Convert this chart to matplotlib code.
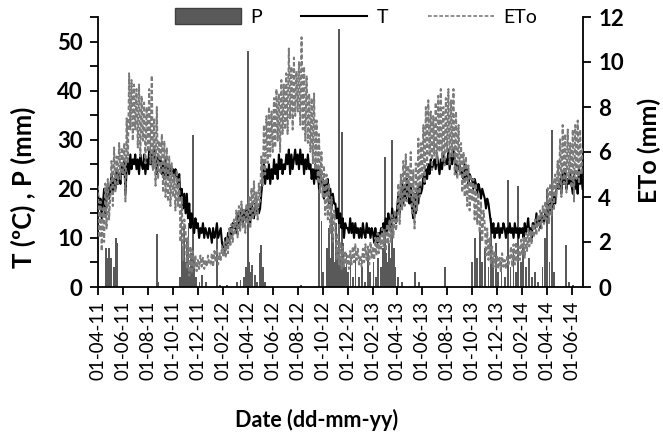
import numpy as np
import pandas as pd
import matplotlib
matplotlib.use('Agg')
import matplotlib.pyplot as plt
import matplotlib.dates as mdates
from matplotlib.patches import Patch
from matplotlib.lines import Line2D

plt.rcParams['font.family'] = ['Lato', 'DejaVu Sans']

# ---- data: 10 readings per month, Apr 2011 - Jun 2014 ----
months = pd.date_range('2011-04-01', '2014-06-01', freq='MS')

T_2011 = [19, 16, 18, 14, 17, 20, 15, 18, 21, 18,
          20, 23, 19, 22, 20, 24, 21, 23, 21, 25,
          23, 26, 19, 24, 26, 23, 27, 24, 26, 25,
          27, 24, 26, 23, 27, 25, 24, 27, 23, 26,
          24, 28, 25, 27, 24, 28, 26, 23, 27, 25,
          26, 23, 25, 22, 26, 24, 22, 25, 23, 24,
          24, 22, 24, 23, 21, 23, 18, 20, 16, 19,
          15, 19, 14, 17, 12, 15, 13, 11, 14, 12,
          13, 10, 12, 11, 13, 10, 12, 11, 10, 12]
T_2012 = [11, 9, 12, 10, 11, 13, 10, 11, 12, 9,
          8, 7, 10, 8, 11, 9, 12, 10, 13, 12,
          13, 11, 15, 12, 14, 16, 13, 15, 14, 16,
          14, 16, 13, 17, 15, 14, 17, 15, 16, 15,
          16, 19, 22, 25, 21, 24, 22, 25, 21, 24,
          22, 26, 23, 25, 22, 27, 24, 26, 23, 25,
          24, 27, 25, 28, 23, 27, 24, 26, 28, 25,
          27, 24, 28, 25, 27, 23, 26, 24, 27, 24,
          25, 22, 24, 21, 25, 22, 24, 20, 23, 21,
          22, 18, 21, 19, 22, 17, 20, 16, 19, 17,
          17, 14, 16, 13, 15, 12, 14, 10, 13, 12,
          12, 11, 14, 11, 13, 10, 13, 11, 12, 10]
T_2013 = [12, 10, 13, 11, 10, 13, 11, 12, 10, 12,
          11, 9, 12, 10, 9, 11, 10, 12, 11, 13,
          12, 14, 11, 15, 13, 12, 16, 14, 15, 13,
          16, 19, 15, 18, 21, 17, 20, 18, 22, 19,
          17, 21, 16, 14, 19, 15, 20, 17, 21, 19,
          20, 23, 21, 24, 22, 25, 23, 26, 24, 25,
          26, 24, 27, 25, 23, 26, 24, 27, 25, 26,
          25, 28, 24, 27, 25, 28, 26, 23, 25, 24,
          25, 23, 24, 22, 25, 22, 24, 21, 23, 22,
          22, 20, 22, 21, 19, 21, 20, 18, 20, 19,
          18, 16, 18, 17, 15, 13, 11, 13, 10, 12,
          11, 13, 10, 12, 11, 13, 12, 10, 12, 11]
T_2014 = [13, 11, 12, 10, 13, 11, 12, 10, 12, 11,
          12, 10, 13, 11, 12, 14, 11, 12, 10, 13,
          13, 12, 15, 13, 14, 12, 15, 14, 13, 15,
          15, 14, 17, 15, 18, 16, 19, 17, 20, 21,
          20, 22, 19, 23, 21, 24, 20, 22, 21, 23,
          21, 19, 23, 20, 22, 19, 24, 21, 23, 20]

ETo_2011 = [4.5, 2.2, 3.8, 1.6, 3.5, 2.0, 4.6, 2.6, 4.8, 3.0,
            4.0, 5.6, 3.6, 6.2, 4.2, 5.8, 4.6, 6.4, 4.8, 6.2,
            5.0, 6.4, 3.8, 7.5, 5.5, 9.5, 7.0, 9.2, 6.5, 9.0,
            7.0, 8.8, 6.2, 9.0, 5.8, 8.5, 6.5, 8.2, 5.5, 8.0,
            6.0, 8.8, 5.5, 9.4, 5.2, 7.5, 4.5, 8.0, 4.8, 6.5,
            5.0, 6.8, 4.2, 6.5, 4.0, 6.2, 3.8, 5.8, 3.6, 5.5,
            4.0, 5.0, 3.4, 5.2, 3.6, 4.8, 2.0, 4.0, 1.2, 3.0,
            2.5, 0.8, 2.2, 0.5, 1.8, 0.6, 1.6, 0.8, 1.4, 0.7,
            1.2, 0.8, 1.4, 0.9, 1.3, 0.8, 1.2, 0.9, 1.4, 1.0]
ETo_2012 = [1.0, 1.5, 0.9, 1.6, 1.1, 1.7, 1.0, 1.5, 1.2, 1.8,
            1.4, 2.0, 1.3, 2.2, 1.5, 2.6, 1.8, 2.8, 2.0, 3.0,
            2.3, 3.4, 2.2, 3.6, 2.5, 3.8, 2.6, 3.5, 2.4, 3.7,
            2.8, 4.0, 2.6, 4.4, 3.0, 4.7, 3.2, 4.2, 3.0, 4.6,
            3.8, 5.8, 4.5, 7.2, 5.0, 7.6, 5.5, 8.0, 5.8, 7.8,
            6.0, 8.4, 6.2, 8.8, 6.5, 8.6, 6.0, 9.2, 6.8, 9.0,
            7.0, 9.5, 6.8, 10.6, 7.5, 9.8, 7.0, 10.2, 7.6, 9.6,
            7.8, 10.0, 7.2, 11.1, 7.0, 9.8, 6.5, 9.4, 6.4, 8.6,
            6.0, 8.4, 5.5, 8.6, 5.2, 7.4, 4.6, 6.8, 4.2, 6.0,
            4.0, 5.4, 3.2, 5.0, 3.0, 4.6, 2.4, 4.0, 2.0, 3.4,
            2.6, 1.2, 2.4, 1.0, 2.0, 0.8, 1.8, 0.9, 1.6, 1.0,
            1.4, 0.8, 1.6, 1.0, 1.8, 1.1, 1.9, 1.2, 1.7, 1.0]
ETo_2013 = [1.4, 0.9, 1.7, 1.1, 1.9, 1.2, 1.8, 1.0, 2.0, 1.3,
            1.8, 1.2, 2.2, 1.4, 2.4, 1.5, 2.3, 1.7, 2.6, 1.8,
            2.4, 1.6, 2.8, 1.9, 3.0, 2.0, 3.2, 2.2, 3.4, 2.5,
            3.0, 4.6, 2.8, 5.0, 3.4, 5.6, 3.6, 5.9, 3.8, 5.4,
            4.0, 6.0, 3.2, 5.2, 2.6, 5.5, 3.4, 6.6, 4.0, 6.4,
            4.8, 7.2, 4.6, 8.0, 5.4, 8.3, 5.8, 7.8, 5.2, 7.6,
            5.8, 8.2, 5.5, 8.5, 6.0, 8.8, 5.6, 8.0, 5.4, 8.4,
            6.0, 8.8, 5.4, 8.3, 5.8, 8.8, 5.0, 7.8, 4.8, 7.2,
            5.0, 6.4, 4.2, 6.0, 4.0, 5.8, 3.6, 5.4, 3.4, 5.0,
            3.8, 4.8, 3.0, 4.6, 2.8, 4.2, 2.4, 3.8, 2.0, 3.4,
            2.8, 1.4, 2.6, 1.2, 2.2, 1.0, 1.8, 0.9, 1.6, 0.8,
            1.4, 0.8, 1.3, 0.7, 1.5, 0.9, 1.2, 0.8, 1.4, 1.0]
ETo_2014 = [1.2, 1.8, 0.9, 1.9, 1.0, 2.0, 1.1, 1.8, 1.2, 2.1,
            1.4, 2.2, 1.3, 2.4, 1.6, 2.6, 1.8, 2.5, 1.9, 2.8,
            2.2, 3.0, 2.3, 3.2, 2.5, 3.4, 2.6, 3.6, 2.8, 3.8,
            3.0, 4.4, 2.8, 4.6, 3.2, 4.8, 3.4, 5.0, 4.0, 5.6,
            4.4, 6.6, 4.0, 7.2, 4.6, 6.8, 4.2, 7.0, 4.8, 6.4,
            4.4, 7.0, 3.8, 7.2, 4.8, 7.4, 4.6, 7.0, 5.0, 6.2]

P_dates = ['2011-04-21', '2011-04-24', '2011-04-28', '2011-05-03', '2011-05-10',
           '2011-05-14', '2011-05-18', '2011-08-23', '2011-08-26',
           '2011-10-18', '2011-10-22', '2011-10-25', '2011-10-28', '2011-11-01',
           '2011-11-04', '2011-11-08', '2011-11-11', '2011-11-15', '2011-11-19',
           '2011-11-22', '2011-11-26', '2011-12-05', '2011-12-12', '2011-12-20',
           '2012-01-16', '2012-01-24', '2012-02-10', '2012-03-05', '2012-03-14',
           '2012-03-22', '2012-03-28', '2012-04-01', '2012-04-04', '2012-04-08',
           '2012-04-12', '2012-04-18', '2012-04-24', '2012-04-30', '2012-05-04',
           '2012-05-09', '2012-05-14', '2012-08-10',
           '2012-09-22', '2012-09-28', '2012-10-02', '2012-10-12', '2012-10-16',
           '2012-10-19', '2012-10-23', '2012-10-27', '2012-10-30', '2012-11-02',
           '2012-11-05', '2012-11-09', '2012-11-12', '2012-11-17', '2012-11-20',
           '2012-11-24', '2012-11-28', '2012-12-02', '2012-12-08', '2012-12-14',
           '2012-12-20', '2012-12-28',
           '2013-01-06', '2013-01-12', '2013-01-19', '2013-01-24', '2013-02-02',
           '2013-02-08', '2013-02-14', '2013-02-20', '2013-02-26', '2013-03-02',
           '2013-03-06', '2013-03-09', '2013-03-13', '2013-03-16', '2013-03-20',
           '2013-03-24', '2013-03-28', '2013-04-03', '2013-04-12', '2013-05-14',
           '2013-05-24', '2013-07-26',
           '2013-10-01', '2013-10-09', '2013-10-14', '2013-10-20', '2013-10-26',
           '2013-11-02', '2013-11-10', '2013-11-16', '2013-11-21', '2013-11-28',
           '2013-12-04', '2013-12-12', '2013-12-20', '2013-12-27',
           '2014-01-03', '2014-01-10', '2014-01-16', '2014-01-22', '2014-01-28',
           '2014-02-03', '2014-02-10', '2014-02-17', '2014-02-24', '2014-03-03',
           '2014-03-12', '2014-03-22', '2014-03-28', '2014-04-03', '2014-04-08',
           '2014-04-14', '2014-04-20', '2014-05-18', '2014-05-25', '2014-06-05']
P_mm = [8, 6, 8, 6, 4,
        10, 9, 10.8, 1,
        2, 14, 8, 12, 5,
        10, 13, 4, 7, 31,
        5, 2, 1, 2.5, 1,
        11, 0.5, 0.5, 1, 1.5,
        2, 4, 48, 5, 3,
        4.5, 2.5, 1, 7, 8.5,
        4, 1, 0.5,
        24, 13.5, 3, 8, 12,
        6, 15, 10, 5, 13,
        8, 52.5, 6, 31.5, 9,
        4, 7, 3, 5, 2,
        6, 2,
        4, 1, 7, 3, 5,
        2, 6, 4, 8, 26.5,
        7, 5, 9, 6, 30,
        8, 4, 2, 1, 3,
        1, 4,
        5, 10, 6, 12, 5,
        8, 4, 14, 6, 9,
        3, 5, 2, 21.7,
        4, 7, 3, 20.5, 5,
        8, 4, 6, 2, 3,
        1, 4, 10, 20, 5,
        32, 3, 8.5, 1, 0.5]

T = T_2011 + T_2012 + T_2013 + T_2014
ETo = ETo_2011 + ETo_2012 + ETo_2013 + ETo_2014

x_dates = []
for m in months:
    nd = m.days_in_month
    for i in range(10):
        x_dates.append(m + pd.Timedelta(days=i * nd / 10))
x_dates = pd.to_datetime(x_dates)

tick_dates = pd.date_range('2011-04-01', '2014-06-01', freq='2MS')

# ---- figure ----
fig = plt.figure(figsize=(6.63, 4.37), dpi=100)
ax = fig.add_axes([98/663, 1-287/437, 485/663, 270/437])
ax2 = ax.twinx()

bar_col = '#595959'
eto_col = '#7a7a7a'
ax.bar(pd.to_datetime(P_dates), P_mm, width=4.5, color=bar_col, linewidth=0, zorder=1)
ax.plot(x_dates, T, color='black', lw=1.5, zorder=2)
ax2.plot(x_dates, ETo, color=eto_col, lw=1.4, linestyle=(0, (2.2, 1.2)), zorder=3)

ax.set_xlim(pd.Timestamp('2011-04-01'), pd.Timestamp('2014-06-29'))
ax.set_ylim(0, 55)
ax2.set_ylim(0, 12)

ax.set_yticks(np.arange(0, 51, 10))
ax.set_yticks(np.arange(5, 56, 10), minor=True)
ax2.set_yticks(np.arange(0, 13, 2))
ax.set_xticks(tick_dates)
ax.xaxis.set_major_formatter(mdates.DateFormatter('%d-%m-%y'))

ax.spines['top'].set_visible(False)
ax2.spines['top'].set_visible(False)
ax2.spines['left'].set_visible(False)
ax2.spines['bottom'].set_visible(False)
ax.spines['right'].set_visible(False)
for a in (ax, ax2):
    for s in a.spines.values():
        s.set_linewidth(1.3)

ax.tick_params(axis='y', which='both', direction='out', length=6, width=1.3,
               labelsize=16, pad=5)
ax2.tick_params(axis='y', direction='out', length=6, width=1.3, labelsize=16, pad=5)
for lab in ax.get_yticklabels() + ax2.get_yticklabels():
    lab.set_fontweight('bold')
ax.tick_params(axis='x', direction='out', length=6, width=1.3, labelsize=13.5,
               labelrotation=90, pad=4)

ax.set_ylabel('T (ºC) , P (mm)', fontsize=18.5, fontweight='bold')
ax.yaxis.set_label_coords(-0.128, 0.37)
ax2.set_ylabel('ETo (mm)', fontsize=18, fontweight='bold')
ax2.yaxis.set_label_coords(1.112, 0.507)
ax.set_xlabel('Date (dd-mm-yy)', fontsize=15.5, fontweight='bold')
ax.xaxis.set_label_coords((317-98)/485, -0.45)

handles = [Patch(facecolor=bar_col, edgecolor='#404040'),
           Line2D([], [], color='black', lw=1.5),
           Line2D([], [], color=eto_col, lw=1.2, linestyle=(0, (2.2, 1.2)))]
fig.legend(handles, ['P', 'T', 'ETo'], loc='center', bbox_to_anchor=(0.537, 1-17/437),
           ncol=3, frameon=False, fontsize=14, handlelength=3.4, handleheight=0.9,
           columnspacing=2.0, handletextpad=0.5)

fig.savefig('out.png', dpi=100)
